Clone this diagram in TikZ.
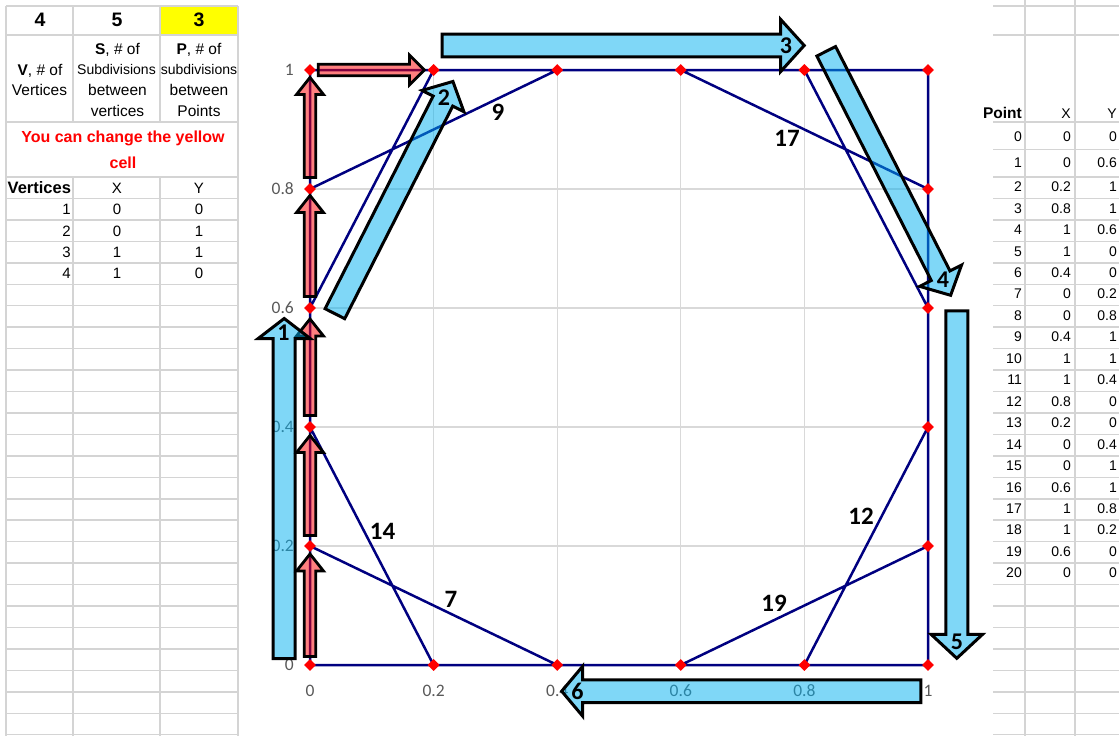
\documentclass[tikz,border=0pt]{standalone}
\usepackage{fontspec}
\setmainfont{Liberation Sans}
\newfontfamily\calib{Carlito}
\usetikzlibrary{shapes.geometric}
\definecolor{cellgrid}{HTML}{D4D4D4}
\definecolor{plotgrid}{HTML}{D9D9D9}
\definecolor{seriesc}{HTML}{000080}
\definecolor{axisc}{HTML}{595959}
\definecolor{skyb}{HTML}{00B0F0}
\definecolor{cellyellow}{HTML}{FFFF00}
% style, tail x, tail y, angle, length, shaft half width, head half width, head length
\newcommand{\blockarrow}[8]{%
  \draw[#1, shift={(#2,#3)}, rotate=#4]
    (0,-#6) -- ({#5-#8},-#6) -- ({#5-#8},-#7) -- (#5,0) -- ({#5-#8},#7) -- ({#5-#8},#6) -- (0,#6) -- cycle;}
\tikzset{
  cellline/.style={draw=cellgrid, line width=1.5pt},
  plotline/.style={draw=plotgrid, line width=1.3pt},
  series/.style={draw=seriesc, line width=2.5pt, line join=round},
  marker/.style={diamond, fill=red, draw=none, minimum size=12pt, inner sep=0pt},
  tx/.style={inner sep=0pt, text depth=0pt, text height=10pt, font=\fontsize{14}{16}\selectfont},
  txl/.style={inner sep=0pt, text depth=0pt, text height=10.8pt, font=\fontsize{15}{17}\selectfont},
  txh/.style={inner sep=0pt, text depth=0pt, text height=11pt, font=\fontsize{15.5}{17}\selectfont},
  txs/.style={inner sep=0pt, text depth=0pt, text height=10pt, font=\fontsize{14}{16}\selectfont},
  txb/.style={inner sep=0pt, text depth=0pt, text height=11.1pt, font=\fontsize{15.5}{17}\selectfont\bfseries},
  txbl/.style={inner sep=0pt, text depth=0pt, text height=11.8pt, font=\fontsize{16.5}{18}\selectfont\bfseries},
  bignum/.style={inner sep=0pt, text depth=0pt, text height=14pt, font=\fontsize{19.5}{22}\selectfont\bfseries},
  redtx/.style={inner sep=0pt, text depth=0pt, text height=11.4pt, text=red, font=\fontsize{16}{18}\selectfont\bfseries},
  axlab/.style={inner sep=0pt, text depth=0pt, text height=11pt, text=axisc, font=\calib\fontsize{17.5}{20}\selectfont},
  numlab/.style={inner sep=0pt, text depth=0pt, text height=15.8pt, font=\calib\bfseries\fontsize{25}{28}\selectfont},
  arrlab/.style={inner sep=0pt, text depth=0pt, text height=15.2pt, font=\calib\bfseries\fontsize{24}{26}\selectfont},
  redarr/.style={fill=red, fill opacity=0.5, draw=black, line width=2.8pt, line join=miter},
  bluearr/.style={fill=skyb, fill opacity=0.5, draw=black, line width=3pt, line join=miter}
}
\begin{document}
\begin{tikzpicture}[x=1pt, y=-1pt]
\useasboundingbox (0,0) rectangle (1119,736);
\fill[white] (0,0) rectangle (1119,736);

% ---------- left table ----------
\fill[cellyellow] (160,6) rectangle (238,35);
\foreach \yy in {6,35,122} \draw[cellline] (6,\yy) -- (238,\yy);
\foreach \j in {0,...,26} \draw[cellline] (6,{177+21.45*\j}) -- (238,{177+21.45*\j});
\draw[cellline] (6,6) -- (6,736);
\draw[cellline] (238,6) -- (238,736);
\foreach \xx in {73,160} {
  \draw[cellline] (\xx,6) -- (\xx,122);
  \draw[cellline] (\xx,177) -- (\xx,736);
}
\node[bignum] (nv) at (40,20) {4};
\node[bignum] (ns) at (117,20) {5};
\node[bignum] (np) at (199,20) {3};
\node[txh] (h1a) at (40,69.5) {{\bfseries V}, \# of};
\node[txh] (h1b) at (39.5,90) {Vertices};
\node[txh] (h2a) at (117.5,48.5) {{\bfseries S}, \# of};
\node[txs] (h2b) at (116.5,69.5) {Subdivisions};
\node[txh] (h2c) at (117.5,90) {between};
\node[txh] (h2d) at (117.5,111) {vertices};
\node[txh] (h3a) at (199,48.5) {{\bfseries P}, \# of};
\node[txs] (h3b) at (199,69.5) {subdivisions};
\node[txh] (h3c) at (199,90) {between};
\node[txh] (h3d) at (199,111) {Points};
\node[redtx] (r1) at (123,137) {You can change the yellow};
\node[redtx] (r2) at (123,163) {cell};
\node[txbl, anchor=west] (vh) at (7.5,188) {Vertices};
\node[txl] (vx) at (117,188) {X};
\node[txl] (vy) at (199,188) {Y};
\foreach \i/\xv/\yv in {1/0/0,2/0/1,3/1/1,4/1/0} {
  \node[txl, anchor=east] (vi\i) at (71,{187.7+21.45*\i}) {\i};
  \node[txl] (vx\i) at (117,{187.7+21.45*\i}) {\xv};
  \node[txl] (vy\i) at (199,{187.7+21.45*\i}) {\yv};
}

% ---------- right table ----------
\foreach \yy in {6,35,122,149.5} \draw[cellline] (993,\yy) -- (1119,\yy);
\foreach \j in {0,...,26} \draw[cellline] (993,{177+21.45*\j}) -- (1119,{177+21.45*\j});
\draw[cellline] (1025,0) -- (1025,736);
\draw[cellline] (1075,0) -- (1075,736);

% ---------- chart ----------
\fill[white] (239.5,0) rectangle (980,731);
\begin{scope}[shift={(310pt,-665pt)}, x=618pt, y=595pt]
  \foreach \v in {0,0.2,0.4,0.6,0.8,1} {
    \draw[plotline] (\v,0) -- (\v,1);
    \draw[plotline] (0,\v) -- (1,\v);
  }
  \coordinate (q0) at (0,0);   \coordinate (q1) at (0,0.2); \coordinate (q2) at (0,0.4);
  \coordinate (q3) at (0,0.6); \coordinate (q4) at (0,0.8); \coordinate (q5) at (0,1);
  \coordinate (q6) at (0.2,1); \coordinate (q7) at (0.4,1); \coordinate (q8) at (0.6,1);
  \coordinate (q9) at (0.8,1); \coordinate (q10) at (1,1); \coordinate (q11) at (1,0.8);
  \coordinate (q12) at (1,0.6); \coordinate (q13) at (1,0.4); \coordinate (q14) at (1,0.2);
  \coordinate (q15) at (1,0); \coordinate (q16) at (0.8,0); \coordinate (q17) at (0.6,0);
  \coordinate (q18) at (0.4,0); \coordinate (q19) at (0.2,0);
  \draw[series] (q0) -- (q3) -- (q6) -- (q9) -- (q12) -- (q15) -- (q18) -- (q1) -- (q4)
     -- (q7) -- (q10) -- (q13) -- (q16) -- (q19) -- (q2) -- (q5) -- (q8) -- (q11) -- (q14)
     -- (q17) -- (q0);
  \foreach \i in {0,...,19} \node[marker] (m\i) at (q\i) {};
\end{scope}

% right table text
\node[txb, anchor=east] (ph) at (1022,113) {Point};
\node[tx, anchor=east] (pxh) at (1071,113) {X};
\node[tx, anchor=east] (pyh) at (1117,113) {Y};
\node[tx, anchor=east] (pk0) at (1022,136.5) {0};
\node[tx, anchor=east] (px0) at (1071,136.5) {0};
\node[tx, anchor=east] (py0) at (1117,136.5) {0};
\node[tx, anchor=east] (pk1) at (1022,162) {1};
\node[tx, anchor=east] (px1) at (1071,162) {0};
\node[tx, anchor=east] (py1) at (1117,162) {0.6};
\foreach \k/\xv/\yv in {2/0.2/1,3/0.8/1,4/1/0.6,5/1/0,6/0.4/0,7/0/0.2,8/0/0.8,9/0.4/1,10/1/1,11/1/0.4,12/0.8/0,13/0.2/0,14/0/0.4,15/0/1,16/0.6/1,17/1/0.8,18/1/0.2,19/0.6/0,20/0/0} {
  \node[tx, anchor=east] (pk\k) at (1022,{186.7+21.45*(\k-2)}) {\k};
  \node[tx, anchor=east] (px\k) at (1071,{186.7+21.45*(\k-2)}) {\xv};
  \node[tx, anchor=east] (py\k) at (1117,{186.7+21.45*(\k-2)}) {\yv};
}

% axis labels
\node[axlab, anchor=east] (ya0) at (294,665) {0};
\node[axlab, anchor=east] (ya1) at (294,546) {0.2};
\node[axlab, anchor=east] (ya2) at (294,427) {0.4};
\node[axlab, anchor=east] (ya3) at (294,308) {0.6};
\node[axlab, anchor=east] (ya4) at (294,189) {0.8};
\node[axlab, anchor=east] (ya5) at (294,70) {1};
\node[axlab] (xa0) at (310,690.5) {0};
\node[axlab] (xa1) at (433.6,690.5) {0.2};
\node[axlab] (xa2) at (557.2,690.5) {0.4};
\node[axlab] (xa3) at (680.8,690.5) {0.6};
\node[axlab] (xa4) at (804.4,690.5) {0.8};
\node[axlab] (xa5) at (928,690.5) {1};

% red arrows
\blockarrow{redarr}{310}{656.5}{90}{102.5}{5.7}{13.5}{17}
\blockarrow{redarr}{310}{535.5}{90}{100}{5.7}{13.5}{17}
\blockarrow{redarr}{310}{415.5}{90}{96.5}{5.7}{13.5}{17}
\blockarrow{redarr}{310}{296.5}{90}{101}{5.7}{13.5}{17}
\blockarrow{redarr}{310}{177.5}{90}{100}{5.7}{13.5}{17}
\blockarrow{redarr}{318.2}{70}{0}{106.3}{5.8}{14.8}{15}

% blue arrows
\blockarrow{bluearr}{284.2}{658.5}{90}{340}{11}{26}{20}
\blockarrow{bluearr}{334.9}{313.7}{63.06}{260.5}{11}{23.5}{22}
\blockarrow{bluearr}{442.2}{45.5}{0}{362}{11.3}{26}{23.5}
\blockarrow{bluearr}{826.2}{51.3}{-62.98}{273.9}{10.5}{23.5}{22}
\blockarrow{bluearr}{956.8}{310.8}{-90}{347.5}{11}{25.8}{24}
\blockarrow{bluearr}{920.8}{691.2}{180}{359.1}{11.4}{25}{21}

% arrow labels
\node[arrlab] (a1) at (283.5,333) {1};
\node[arrlab] (a2) at (444,97.5) {2};
\node[arrlab] (a3) at (786,46) {3};
\node[arrlab] (a4) at (943,280) {4};
\node[arrlab] (a5) at (957,642) {5};
\node[arrlab] (a6) at (577.5,691.5) {6};

% line labels
\node[numlab] (l9) at (498,113) {9};
\node[numlab] (l17) at (787,138.5) {17};
\node[numlab] (l14) at (382.5,531.5) {14};
\node[numlab] (l7) at (451,600) {7};
\node[numlab] (l12) at (861,517) {12};
\node[numlab] (l19) at (774,604) {19};
\end{tikzpicture}
\end{document}
